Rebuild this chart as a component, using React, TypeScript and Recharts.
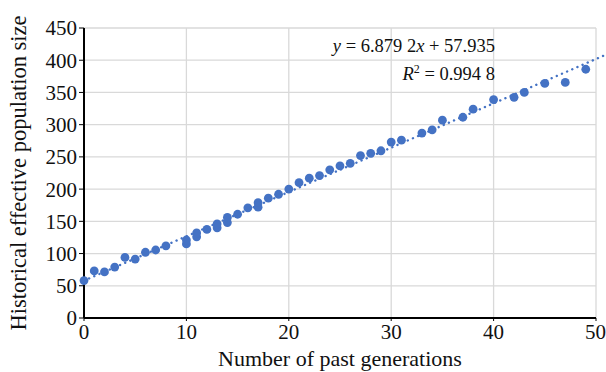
import {
  ScatterChart,
  Scatter,
  XAxis,
  YAxis,
  CartesianGrid,
  ReferenceLine,
  Label,
} from "recharts";

// generations vs. effective size
const generations = [
  0, 1, 2, 3, 4, 5, 6, 7, 8, 10, 10, 11, 11, 12, 13, 13, 14, 14, 15, 16, 17, 17,
  18, 19, 20, 21, 22, 23, 24, 25, 26, 27, 28, 29, 30, 31, 33, 34, 35, 37, 38, 40,
  42, 43, 45, 47, 49,
];
const popSize = [
  58, 73, 71.5, 79, 94, 91.5, 102, 105.5, 112, 115, 121, 126, 132, 137.5, 140,
  146, 148, 156, 161, 171, 172, 179, 186, 192, 200, 210, 217, 221, 230, 236, 240,
  252, 255.5, 259.5, 273, 276, 287, 292, 307, 311.5, 324, 339, 342.5, 350, 364,
  365.5, 386,
];
const xTicks = [0, 10, 20, 30, 40, 50];
const yTicks = [0, 50, 100, 150, 200, 250, 300, 350, 400, 450];

// linear trend from the figure's equation
const slope = 6.8792;
const intercept = 57.935;
const trendEnd = 51;

const data = generations.map((g, i) => ({ x: g, y: popSize[i] }));

const BLUE = "#4472C4";
const INK = "#111";
const FONT = "'Liberation Serif', 'DejaVu Serif', serif";

export default function App() {
  return (
    <div style={{ position: "absolute", left: 0, top: 0, width: 606, height: 372, background: "#fff" }}>
      <ScatterChart
        width={606}
        height={372}
        margin={{ top: 28, right: 10, left: 0, bottom: 0 }}
        style={{ fontFamily: FONT }}
      >
        <CartesianGrid stroke="#d9d9d9" strokeWidth={1.3} />
        <XAxis
          type="number"
          dataKey="x"
          domain={[0, 50]}
          ticks={xTicks}
          height={54}
          tick={{ fontSize: 21, fill: INK, fontFamily: FONT }}
          axisLine={{ stroke: "#000", strokeWidth: 2 }}
          tickLine={{ stroke: "#000" }}
          tickSize={3}
          tickMargin={3}
        >
          <Label
            value="Number of past generations"
            position="insideBottom"
            offset={6}
            style={{ fontSize: 22, fill: INK, fontFamily: FONT }}
          />
        </XAxis>
        <YAxis
          type="number"
          dataKey="y"
          domain={[0, 450]}
          ticks={yTicks}
          width={84}
          tick={{ fontSize: 21, fill: INK, fontFamily: FONT }}
          axisLine={{ stroke: "#000", strokeWidth: 2 }}
          tickLine={{ stroke: "#000" }}
          tickSize={5}
          tickMargin={2}
        >
          <Label
            value="Historical effective population size"
            angle={-90}
            position="insideLeft"
            offset={18}
            style={{ textAnchor: "middle", fontSize: 22.5, fill: INK, fontFamily: FONT }}
          />
        </YAxis>
        <ReferenceLine
          segment={[
            { x: 0, y: intercept },
            { x: trendEnd, y: intercept + slope * trendEnd },
          ]}
          ifOverflow="visible"
          stroke={BLUE}
          strokeWidth={2.4}
          strokeDasharray="0.1 5.5"
          strokeLinecap="round"
        />
        <Scatter
          data={data}
          isAnimationActive={false}
          shape={(p: any) => <circle cx={p.cx} cy={p.cy} r={4.4} fill={BLUE} />}
        />
      </ScatterChart>
      <div
        style={{
          position: "absolute",
          right: 111,
          top: 35,
          fontFamily: FONT,
          fontSize: 18.5,
          color: INK,
          whiteSpace: "nowrap",
          lineHeight: "22px",
          textAlign: "right",
        }}
      >
        <div>
          <i>y</i> = 6.879 2<i>x</i> + 57.935
        </div>
        <div style={{ marginTop: 6 }}>
          <i>R</i>
          <sup style={{ fontSize: 12, lineHeight: 0 }}>2</sup> = 0.994 8
        </div>
      </div>
    </div>
  );
}
